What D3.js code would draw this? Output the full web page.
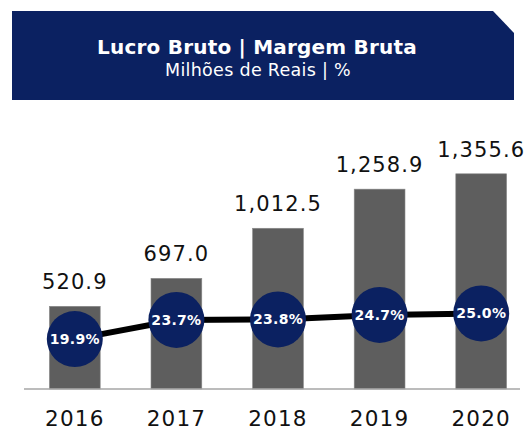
<!DOCTYPE html>
<html>
  <head>
    <meta charset="utf-8">
    <script src="https://d3js.org/d3.v7.min.js"></script>
    <style>
      body { margin: 0; background: #fff; }
      text { font-family: 'DejaVu Sans', sans-serif; }
    </style>
  </head>
  <body>
    <svg width="524" height="430"></svg>
    <script>
      const years = ['2016', '2017', '2018', '2019', '2020'];
      const lucro = [520.9, 697.0, 1012.5, 1258.9, 1355.6];
      const margem = [19.9, 23.7, 23.8, 24.7, 25.0];

      const svg = d3.select('svg');
      const navy = '#0b2161';

      // header box with clipped corner
      svg.append('path')
        .attr('d', 'M12,11 H493 L514,33 V100 H12 Z')
        .attr('fill', navy);
      svg.append('text')
        .attr('x', 257).attr('y', 54)
        .attr('text-anchor', 'middle')
        .attr('fill', '#fff')
        .style('font-weight', 'bold')
        .style('font-size', '20px')
        .style('letter-spacing', '0.2px')
        .text('Lucro Bruto | Margem Bruta');
      svg.append('text')
        .attr('x', 258).attr('y', 76)
        .attr('text-anchor', 'middle')
        .attr('fill', '#fff')
        .style('font-size', '17.5px')
        .style('letter-spacing', '0.3px')
        .text('Milhões de Reais | %');

      const x = d3.scaleBand()
        .domain(years)
        .range([24, 532])
        .paddingInner(0.5)
        .paddingOuter(0.25);

      const y = d3.scaleLinear().domain([0, 1600]).range([389, 135]);
      const y2 = d3.scaleLinear().domain([10, 30]).range([389, 288.2]);

      const rows = years.map((yr, i) => ({ year: yr, v: lucro[i], m: margem[i] }));

      // bars
      svg.selectAll('rect.bar').data(rows)
        .enter().append('rect')
          .attr('class', 'bar')
          .attr('x', d => x(d.year))
          .attr('y', d => y(d.v))
          .attr('width', x.bandwidth())
          .attr('height', d => y(0) - y(d.v))
          .attr('fill', '#5e5e5e')
          .attr('stroke', '#8a8a8a')
          .attr('stroke-width', 0.6);

      // value labels
      svg.selectAll('text.val').data(rows)
        .enter().append('text')
          .attr('class', 'val')
          .attr('x', d => x(d.year) + x.bandwidth() / 2)
          .attr('y', d => y(d.v) - 17)
          .attr('text-anchor', 'middle')
          .style('font-size', '21px')
          .style('letter-spacing', '1.1px')
          .attr('fill', '#111')
          .text(d => d3.format(',.1f')(d.v));

      // baseline
      svg.append('line')
        .attr('x1', 24).attr('x2', 520)
        .attr('y1', y(0)).attr('y2', y(0))
        .attr('stroke', '#a6a6a6')
        .attr('stroke-width', 1.5);

      // year axis labels
      const xAxis = d3.axisBottom(x).tickSize(0).tickPadding(22);
      const xAxisG = svg.append('g')
        .attr('transform', `translate(0, ${y(0)})`)
        .call(xAxis);
      xAxisG.select('.domain').remove();
      xAxisG.selectAll('text')
        .style('font-size', '21.5px')
        .style('letter-spacing', '1.2px')
        .style('font-family', "'DejaVu Sans', sans-serif")
        .attr('fill', '#111');

      // margin line
      const line = d3.line()
        .x(d => x(d.year) + x.bandwidth() / 2)
        .y(d => y2(d.m));
      svg.append('path')
        .datum(rows)
        .attr('d', line)
        .attr('fill', 'none')
        .attr('stroke', '#000')
        .attr('stroke-width', 6);

      svg.selectAll('circle').data(rows)
        .enter().append('circle')
          .attr('cx', d => x(d.year) + x.bandwidth() / 2)
          .attr('cy', d => y2(d.m))
          .attr('r', 28)
          .attr('fill', navy);

      svg.selectAll('text.pct').data(rows)
        .enter().append('text')
          .attr('class', 'pct')
          .attr('x', d => x(d.year) + x.bandwidth() / 2)
          .attr('y', d => y2(d.m))
          .attr('dy', '0.36em')
          .attr('text-anchor', 'middle')
          .attr('fill', '#fff')
          .style('font-weight', 'bold')
          .style('font-size', '14px')
          .style('letter-spacing', '0.3px')
          .text(d => d3.format('.1f')(d.m) + '%');
    </script>
  </body>
</html>
